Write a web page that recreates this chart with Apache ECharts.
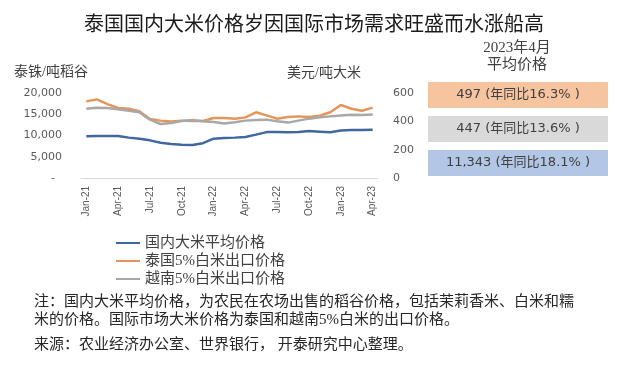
<!DOCTYPE html>
<html><head><meta charset="utf-8">
<script src="https://cdn.jsdelivr.net/npm/echarts@6/dist/echarts.min.js"></script>
<style>html,body{margin:0;padding:0;background:#fff}#c{width:624px;height:367px}</style>
</head><body><div id="c"></div>
<script>
const months = ["Jan-21","Feb-21","Mar-21","Apr-21","May-21","Jun-21","Jul-21","Aug-21","Sep-21","Oct-21","Nov-21","Dec-21",
"Jan-22","Feb-22","Mar-22","Apr-22","May-22","Jun-22","Jul-22","Aug-22","Sep-22","Oct-22","Nov-22","Dec-22",
"Jan-23","Feb-23","Mar-23","Apr-23"];
const domesticTHB = [9800,9900,9900,9900,9500,9250,8860,8300,8000,7850,7750,8200,
9250,9400,9500,9650,10200,10800,10800,10750,10800,11050,10900,10750,11200,11300,11300,11343];
const thai5USD = [541,555,522,494,489,471,416,405,398,405,402,402,
424,424,419,428,464,442,419,430,435,430,440,464,515,489,475,497];
const viet5USD = [489,496,494,485,475,464,412,381,388,402,409,400,
395,384,393,405,409,412,400,391,405,419,428,435,442,447,445,449];
const seriesNames = ["国内大米平均价格","泰国5%白米出口价格","越南5%白米出口价格"];
const leftTicks = {min:0,max:20000,interval:5000};
const rightTicks = {min:0,max:600,interval:200};
const boxTexts = ["497 (年同比16.3% )","447 (年同比13.6% )","11,343 (年同比18.1% )"];
const title = "泰国国内大米价格岁因国际市场需求旺盛而水涨船高";
const note1 = "注：国内大米平均价格，为农民在农场出售的稻谷价格，包括茉莉香米、白米和糯";
const note2 = "米的价格。国际市场大米价格为泰国和越南5%白米的出口价格。";
const source = "来源：农业经济办公室、世界银行， 开泰研究中心整理。";

const CJK = '"Liberation Serif","Noto Sans CJK SC",sans-serif';
const SANS = '"DejaVu Sans","Noto Sans CJK SC",sans-serif';
const colors = ['#41679f','#e5955a','#a8a8a8'];
const boxColors = ['#f7c4a0','#d9d9d9','#b3c6e5'];

const chart = echarts.init(document.getElementById('c'));
const graphics = [
  {type:'text',x:314,y:23,style:{text:title,font:'20px "Noto Sans CJK SC"',fill:'#1a1a1a',align:'center',verticalAlign:'middle'}},
  {type:'text',x:517,y:48,style:{text:'2023年4月',font:'15px '+CJK,fill:'#404040',align:'center',verticalAlign:'middle'}},
  {type:'text',x:517,y:65,style:{text:'平均价格',font:'15px '+CJK,fill:'#404040',align:'center',verticalAlign:'middle'}},
  {type:'text',x:14,y:72,style:{text:'泰铢/吨稻谷',font:'14px '+CJK,fill:'#404040',verticalAlign:'middle'}},
  {type:'text',x:287,y:73,style:{text:'美元/吨大米',font:'14px '+CJK,fill:'#404040',verticalAlign:'middle'}},
  {type:'text',x:34,y:302,style:{text:note1,font:'15px '+CJK,fill:'#262626',verticalAlign:'middle'}},
  {type:'text',x:34,y:320,style:{text:note2,font:'15px '+CJK,fill:'#262626',verticalAlign:'middle'}},
  {type:'text',x:34,y:345,style:{text:source,font:'15px '+CJK,fill:'#262626',verticalAlign:'middle'}}
];
const boxY = [82,116,150];
boxTexts.forEach((t,i)=>{
  graphics.push({type:'rect',shape:{x:428,y:boxY[i],width:180,height:26},style:{fill:boxColors[i]}});
  graphics.push({type:'text',x:518,y:boxY[i]+13,style:{text:t,font:'13px '+SANS,fill:'#404040',align:'center',verticalAlign:'middle'}});
});

chart.setOption({
  animation:false,
  grid:{left:81,right:246,top:93,bottom:189,containLabel:false},
  legend:{orient:'vertical',left:111,top:229,icon:'rect',itemWidth:24,itemHeight:2,itemGap:0,
    textStyle:{fontSize:15,lineHeight:18,color:'#404040',fontFamily:CJK},data:seriesNames},
  xAxis:{type:'category',data:months,boundaryGap:true,
    axisLine:{lineStyle:{color:'#d9d9d9'}},axisTick:{show:false},
    axisLabel:{interval:2,rotate:90,margin:8,fontSize:10,color:'#595959',fontFamily:'"Liberation Sans Narrow","Liberation Sans",sans-serif'}},
  yAxis:[
    {type:'value',min:leftTicks.min,max:leftTicks.max,interval:leftTicks.interval,splitLine:{show:false},
     axisLine:{show:false},axisTick:{show:false},
     axisLabel:{margin:19,fontSize:11,color:'#595959',fontFamily:SANS,
       formatter:v=>v===0?'-  ':v.toLocaleString('en-US')}},
    {type:'value',min:rightTicks.min,max:rightTicks.max,interval:rightTicks.interval,splitLine:{show:false},
     axisLine:{show:false},axisTick:{show:false},
     axisLabel:{margin:15,fontSize:11,color:'#595959',fontFamily:SANS}}
  ],
  series:[
    {name:seriesNames[0],type:'line',yAxisIndex:0,data:domesticTHB,symbol:'none',lineStyle:{width:2.5,color:colors[0]},itemStyle:{color:colors[0]}},
    {name:seriesNames[1],type:'line',yAxisIndex:1,data:thai5USD,symbol:'none',lineStyle:{width:2.5,color:colors[1]},itemStyle:{color:colors[1]}},
    {name:seriesNames[2],type:'line',yAxisIndex:1,data:viet5USD,symbol:'none',lineStyle:{width:2.5,color:colors[2]},itemStyle:{color:colors[2]}}
  ],
  graphic:graphics
});
</script></body></html>
